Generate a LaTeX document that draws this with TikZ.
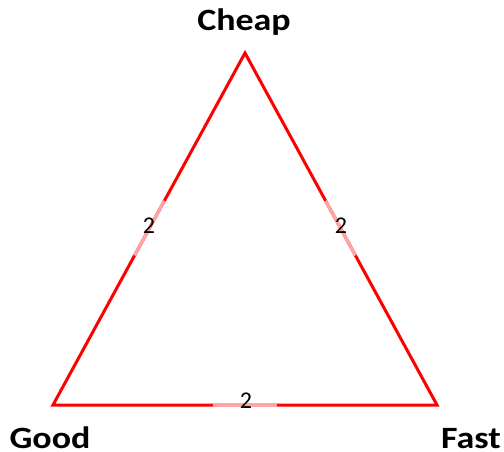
\documentclass[tikz,border=0pt]{standalone}
\usepackage{fontspec}
\setmainfont{Carlito}
\usetikzlibrary{calc}
\definecolor{edgered}{RGB}{255,0,0}
\definecolor{edgepink}{RGB}{255,165,165}
\begin{document}
\begin{tikzpicture}[x=1pt,y=-1pt,
  edge/.style={draw=edgered,line width=3pt},
  hilite/.style={draw=edgepink,line width=3pt},
  vlabel/.style={font=\bfseries\fontsize{31}{34}\selectfont,inner sep=0pt,anchor=base,xscale=1.16,transform shape},
  elabel/.style={font=\fontsize{24}{26}\selectfont,inner sep=0pt,anchor=base}]
\useasboundingbox (0,0) rectangle (504,452);
\coordinate (cheap) at (245,53);
\coordinate (good) at (53,405);
\coordinate (fast) at (437,405);
\draw[edge,line join=miter] (cheap) -- (fast) -- (good) -- cycle;
\draw[hilite] ($(cheap)!0.42!(good)$) -- ($(cheap)!0.575!(good)$);
\draw[hilite] ($(cheap)!0.42!(fast)$) -- ($(cheap)!0.575!(fast)$);
\draw[hilite] ($(good)!0.417!(fast)$) -- ($(good)!0.583!(fast)$);
\node[vlabel] (tcheap) at (244,31) {Cheap};
\node[vlabel] (tgood) at (50,448) {Good};
\node[vlabel] (tfast) at (471,448) {Fast};
\node[elabel] (l1) at (149,233) {2};
\node[elabel] (l2) at (341,233) {2};
\node[elabel] (l3) at (246,408) {2};
\end{tikzpicture}
\end{document}
